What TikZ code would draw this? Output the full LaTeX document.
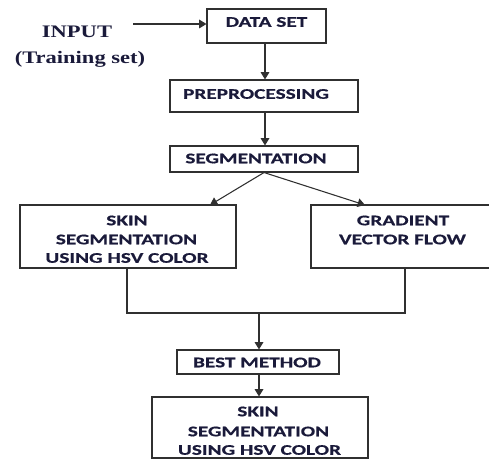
\documentclass[tikz,border=0pt]{standalone}
\usepackage{fontspec}
\setmainfont{Liberation Serif}
\newfontfamily\boxfont[FakeStretch=1.45,FakeBold=0.6]{Carlito}
\newfontfamily\serfont[FakeStretch=1.28]{Liberation Serif}
\usetikzlibrary{arrows.meta,fit}
\definecolor{txt}{HTML}{1A1A3A}
\definecolor{ln}{HTML}{303030}
\tikzset{
  box/.style={draw=ln, line width=0.8pt, inner sep=0pt, fit={#1}},
  lbl/.style={text=txt, font=\boxfont\bfseries\fontsize{11}{14.25}\selectfont, inner sep=0pt, align=center},
  inlbl/.style={text=txt, font=\serfont\bfseries\fontsize{13.2}{16}\selectfont, inner sep=0pt},
  arr/.style={draw=ln, line width=0.8pt, -{Triangle[width=6.5pt,length=5.5pt]}},
  conn/.style={draw=ln, line width=0.8pt}
}
\begin{document}
\begin{tikzpicture}[x=0.75pt,y=-0.75pt]
\useasboundingbox (0,0) rectangle (489,459);
% boxes
\node[box={(207,9) (326,43)}] (ds) {};
\node[box={(170,80) (358,112)}] (pre) {};
\node[box={(170,146) (358,172)}] (seg) {};
\node[box={(20,205) (236,268)}] (skin) {};
\node[box={(311,205) (491,268)}] (gvf) {};
\node[box={(177,350) (339,374)}] (best) {};
\node[box={(152,397) (368,458)}] (res) {};
% texts
\node[inlbl] (tin) at (77,32) {INPUT};
\node[inlbl] (ttr) at (80,59) {(Training set)};
\node[lbl] (tds) at (266.5,22) {DATA SET};
\node[lbl] (tpre) at (256,94) {PREPROCESSING};
\node[lbl] (tseg) at (256,158.5) {SEGMENTATION};
\node[lbl] (ts1) at (127,220.5) {SKIN};
\node[lbl] (ts2) at (126.5,239.5) {SEGMENTATION};
\node[lbl] (ts3) at (127,258) {USING HSV COLOR};
\node[lbl] (tg1) at (403,220.5) {GRADIENT};
\node[lbl] (tg2) at (402.5,239.5) {VECTOR FLOW};
\node[lbl] (tb) at (257,362.5) {BEST METHOD};
\node[lbl] (tr1) at (258,411.5) {SKIN};
\node[lbl] (tr2) at (258.5,431.5) {SEGMENTATION};
\node[lbl] (tr3) at (259.5,450) {USING HSV COLOR};
% coordinates
\coordinate (inp) at (133,24);
\coordinate (c1) at (265,0);
\coordinate (tl) at (210,205);
\coordinate (tr) at (365,205);
\coordinate (jl) at (127,313);
\coordinate (jr) at (405,313);
\coordinate (jm) at (259,313);
% connectors
\draw[arr] (inp) -- (inp -| ds.west);
\draw[arr] (ds.south -| c1) -- (pre.north -| c1);
\draw[arr] (pre.south -| c1) -- (seg.north -| c1);
\draw[arr] (seg.south) -- (tl);
\draw[arr] (seg.south) -- (tr);
\draw[conn] (skin.south -| jl) -- (jl) -- (jr) -- (gvf.south -| jr);
\draw[arr] (jm) -- (best.north -| jm);
\draw[arr] (best.south -| jm) -- (res.north -| jm);
\end{tikzpicture}
\end{document}
